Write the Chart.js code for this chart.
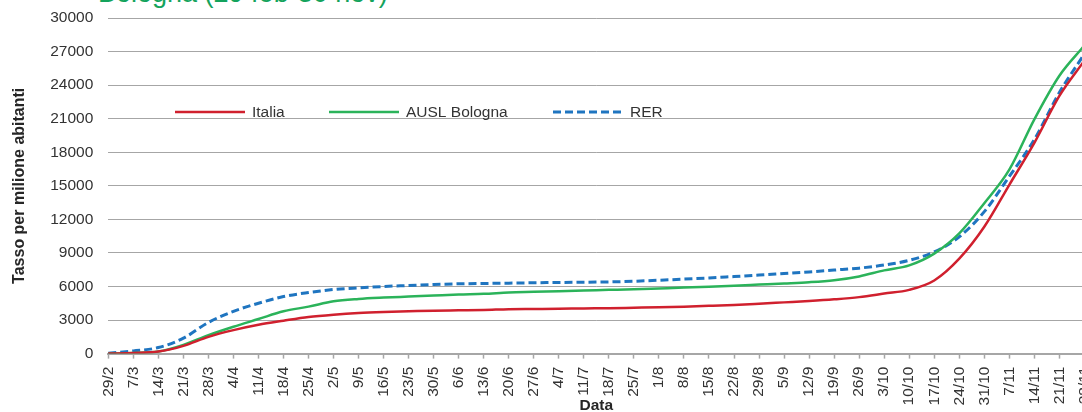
<!DOCTYPE html>
<html>
<head>
<meta charset="utf-8">
<script src="https://cdn.jsdelivr.net/npm/chart.js@4.4.1/dist/chart.umd.min.js"></script>
<style>
  html, body { margin: 0; padding: 0; background: #fff; overflow: hidden; }
  body { width: 1082px; height: 412px; position: relative; }
  #title {
    position: absolute; left: 98px; top: -20px;
    font: 27px/27px "Liberation Sans", Arial, sans-serif;
    color: #14a35c; white-space: nowrap;
  }
  #wrap { position: absolute; left: 0; top: 0; width: 1111px; height: 416px; }
</style>
</head>
<body>
<div id="title">Bologna (29 feb-30 nov)</div>
<div id="wrap"><canvas id="chart"></canvas></div>
<script>
// weekly dates shown on the x axis
const dateLabels = ['29/2', '7/3', '14/3', '21/3', '28/3', '4/4', '11/4', '18/4', '25/4', '2/5',
  '9/5', '16/5', '23/5', '30/5', '6/6', '13/6', '20/6', '27/6', '4/7', '11/7',
  '18/7', '25/7', '1/8', '8/8', '15/8', '22/8', '29/8', '5/9', '12/9', '19/9',
  '26/9', '3/10', '10/10', '17/10', '24/10', '31/10', '7/11', '14/11', '21/11', '28/11'];

// cumulative rate per million inhabitants
const italia = [0, 50, 180, 690, 1500, 2100, 2580, 2940, 3270, 3480,
  3630, 3720, 3780, 3840, 3870, 3900, 3970, 3990, 4010, 4040,
  4060, 4100, 4140, 4200, 4270, 4350, 4460, 4580, 4700, 4850,
  5050, 5370, 5700, 6540, 8490, 11340, 15090, 18840, 23040, 26190];
const auslBologna = [0, 60, 180, 780, 1650, 2400, 3090, 3780, 4200, 4680,
  4890, 5010, 5100, 5190, 5280, 5340, 5460, 5520, 5580, 5640,
  5700, 5760, 5830, 5900, 5980, 6070, 6170, 6270, 6380, 6560,
  6900, 7440, 7890, 8940, 10740, 13440, 16440, 20940, 24840, 27540];
const rer = [30, 240, 540, 1380, 2790, 3780, 4500, 5100, 5460, 5730,
  5880, 6000, 6090, 6180, 6240, 6270, 6300, 6330, 6360, 6380,
  6410, 6470, 6560, 6660, 6760, 6890, 7020, 7160, 7300, 7470,
  7640, 7920, 8340, 9090, 10440, 12690, 15840, 19140, 23340, 26790];

const seriesNames = ['Italia', 'AUSL Bologna', 'RER'];

Chart.defaults.font.family = '"Liberation Sans", Arial, sans-serif';
Chart.defaults.color = '#333333';

// legend drawn inside the plot, like the original
const insideLegend = {
  id: 'insideLegend',
  afterDraw(chart) {
    const ctx = chart.ctx;
    const y = 112;
    const starts = [175, 329, 553];
    ctx.save();
    ctx.font = '15.5px "Liberation Sans", Arial, sans-serif';
    ctx.textBaseline = 'middle';
    chart.data.datasets.forEach((ds, i) => {
      const x = starts[i];
      ctx.strokeStyle = ds.borderColor;
      ctx.lineWidth = ds.borderWidth;
      ctx.setLineDash(ds.borderDash || []);
      ctx.beginPath();
      ctx.moveTo(x, y);
      ctx.lineTo(x + 70, y);
      ctx.stroke();
      ctx.fillStyle = '#333333';
      ctx.fillText(ds.label, x + 77, y + 1);
    });
    ctx.restore();
  }
};

const ctx = document.getElementById('chart');
new Chart(ctx, {
  type: 'line',
  data: {
    labels: dateLabels,
    datasets: [
      { label: seriesNames[0], data: italia, borderColor: '#d0202e', borderWidth: 2.5 },
      { label: seriesNames[1], data: auslBologna, borderColor: '#2bb35a', borderWidth: 2.5 },
      { label: seriesNames[2], data: rer, borderColor: '#1f75c0', borderWidth: 3, borderDash: [8, 4] }
    ]
  },
  options: {
    responsive: true,
    maintainAspectRatio: false,
    animation: false,
    layout: { padding: { top: 18, left: 0, right: 0, bottom: 0 } },
    elements: {
      point: { radius: 0 },
      line: { cubicInterpolationMode: 'monotone', fill: false }
    },
    plugins: {
      legend: { display: false },
      tooltip: { enabled: false }
    },
    scales: {
      x: {
        grid: { drawOnChartArea: false, drawTicks: true, tickLength: 5, color: '#a6a6a6', tickWidth: 1.5 },
        border: { display: true, color: '#a6a6a6', width: 2 },
        ticks: { autoSkip: false, minRotation: 90, maxRotation: 90, padding: 8, font: { size: 15.5 }, color: '#333333' },
        title: { display: true, text: 'Data', font: { size: 15.5, weight: 'bold' }, color: '#262626', padding: { top: -17, bottom: 1 } }
      },
      y: {
        min: 0,
        max: 30000,
        // invisible tick marks keep the gap between labels and plot
        grid: { color: '#a6a6a6', lineWidth: 1, drawTicks: true, tickLength: 12, tickColor: 'rgba(0,0,0,0)' },
        border: { display: false },
        ticks: {
          stepSize: 3000, padding: 3, font: { size: 15.5 }, color: '#333333',
          callback: (v) => String(v)
        },
        title: { display: true, text: 'Tasso per milione abitanti', font: { size: 16, weight: 'bold' }, color: '#262626', padding: { top: 10, bottom: 18 } }
      }
    }
  },
  plugins: [insideLegend]
});
</script>
</body>
</html>
